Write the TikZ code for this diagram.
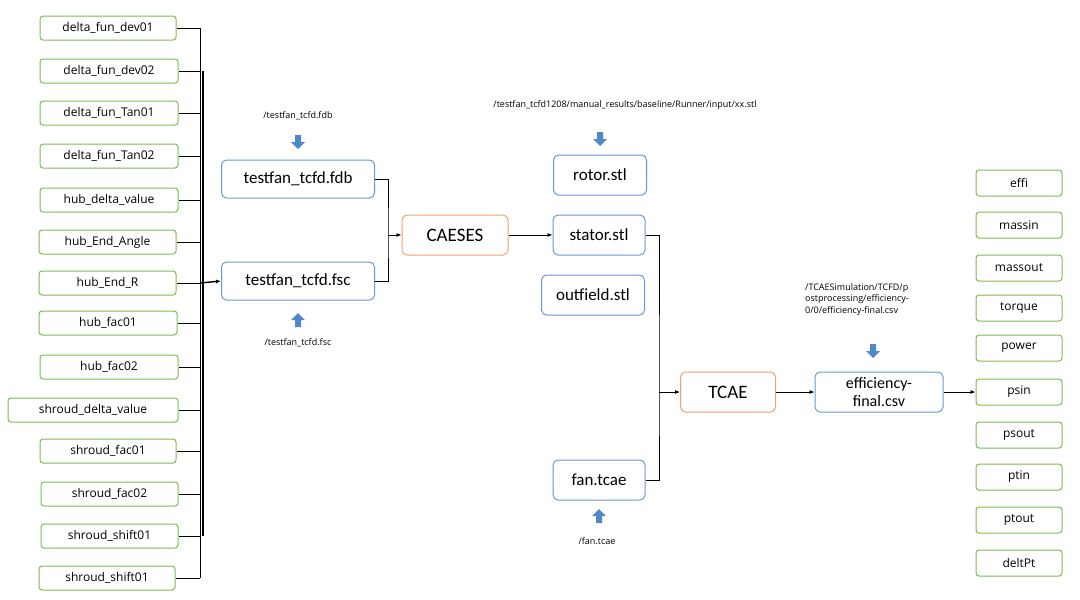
\documentclass[tikz,border=0pt]{standalone}
\usepackage{fontspec}
\setmainfont{Carlito}
\newfontfamily\lsans{Open Sans}
\usetikzlibrary{arrows.meta}
\definecolor{gr}{HTML}{7DBB52}
\definecolor{bl}{HTML}{6A97DC}
\definecolor{og}{HTML}{F0A06A}
\definecolor{ab}{HTML}{4F88C6}
\newcommand{\blockarrow}[3]{\fill[ab,shift={(#1,#2)},rotate=#3] (-3,-7)--(3,-7)--(3,0)--(7,0)--(0,7)--(-7,0)--(-3,0)--cycle;}
\begin{document}
\begin{tikzpicture}[x=1pt,y=-1pt,
 lb/.style={draw=gr,line width=1pt,rounded corners=3pt,minimum height=24pt,font=\lsans\fontsize{12}{14}\selectfont,inner xsep=2pt},
 mb/.style={draw=bl,line width=1pt,rounded corners=5pt,minimum height=38pt,font=\fontsize{17}{18}\selectfont,align=center},
 ob/.style={draw=og,line width=1pt,rounded corners=5pt,minimum height=40pt,font=\fontsize{19}{20}\selectfont},
 rb/.style={draw=gr,line width=1pt,rounded corners=3pt,minimum height=26pt,minimum width=86pt,font=\lsans\fontsize{12}{14}\selectfont},
 ln/.style={line width=0.8pt,black},
 ar/.style={ln,-{Latex[length=5pt,width=4pt]}},
 sm/.style={font=\lsans\fontsize{9}{11.5}\selectfont}]
\useasboundingbox (0,0) rectangle (1080,600);
\foreach \t/\y/\l/\r [count=\i] in {delta\_fun\_dev01/28/40/176,delta\_fun\_dev02/71/40/178,delta\_fun\_Tan01/113/40/178,delta\_fun\_Tan02/156/40/178,hub\_delta\_value/200/40/178,hub\_End\_Angle/242/39/176,hub\_End\_R/283/39/176,hub\_fac01/323/39/177,hub\_fac02/367/40/178,shroud\_delta\_value/410/8/178,shroud\_fac01/451/40/176,shroud\_fac02/494/41/178,shroud\_shift01/536/41/178,shroud\_shift01/578/39/175}
 \node[lb,minimum width={\r-\l}] (L\i) at ({(\l+\r)/2},\y) {\t};
\coordinate (btop) at (200,28);
\coordinate (bbot) at (200,578);
\foreach \i in {1,...,14} \draw[ln] (L\i.east) -- (L\i.east -| btop);
\draw[ln] (btop) -- (bbot);
\draw[line width=1.6pt] (203,71) -- (203,536);

\node[mb,minimum width=153pt] (fdb) at (298,179) {testfan\_tcfd.fdb};
\node[mb,minimum width=153pt] (fsc) at (298,281) {testfan\_tcfd.fsc};
\draw[ar,line width=1.4pt] (L7.east -| btop) -- (fsc.west);
\node[sm] (lfdb) at (298,116) {/testfan\_tcfd.fdb};
\node[sm] (lfsc) at (298,343) {/testfan\_tcfd.fsc};
\blockarrow{298}{142}{0}
\blockarrow{298}{320}{180}

\node[ob,minimum width=106pt] (caeses) at (455,235) {CAESES};
\coordinate (j1) at (388,235);
\draw[ln] (fdb.east) -| (j1) |- (fsc.east);
\draw[ar] (j1) -- (caeses.west);

\node[mb,minimum width=93pt,minimum height=40pt] (rotor) at (600,175) {rotor.stl};
\node[mb,minimum width=92pt,minimum height=40pt] (stator) at (599,235) {stator.stl};
\node[mb,minimum width=103pt,minimum height=40pt] (outf) at (593,295) {outfield.stl};
\node[mb,minimum width=92pt,minimum height=40pt] (fan) at (599,480) {fan.tcae};
\node[sm] (lstl) at (625,105) {/testfan\_tcfd1208/manual\_results/baseline/Runner/input/xx.stl};
\blockarrow{600}{139}{0}
\blockarrow{599}{516}{180}
\node[sm] (lfan) at (597,541) {/fan.tcae};
\draw[ar] (caeses.east) -- (stator.west);

\node[ob,minimum width=95pt] (tcae) at (728,392) {TCAE};
\coordinate (j2) at (659,392);
\draw[ln] (stator.east) -| (j2) |- (fan.east);
\draw[ar] (j2) -- (tcae.west);

\node[mb,minimum width=128pt,minimum height=40pt,inner sep=0pt,font=\fontsize{16}{18}\selectfont] (eff) at (879,392) {efficiency-\\final.csv};
\draw[ar] (tcae.east) -- (eff.west);
\node[sm,align=left,anchor=north west,inner sep=0pt] (leff) at (805,283) {/TCAESimulation/TCFD/p\\ostprocessing/efficiency-\\0/0/efficiency-final.csv};
\blockarrow{873}{351}{0}

\foreach \t/\y [count=\i] in {effi/183,massin/225,massout/268,torque/308,power/348,psin/392,psout/435,ptin/477,ptout/520,deltPt/563}
 \node[rb] (R\i) at (1019,\y) {\t};
\draw[ar] (eff.east) -- (R6.west);
\end{tikzpicture}
\end{document}
